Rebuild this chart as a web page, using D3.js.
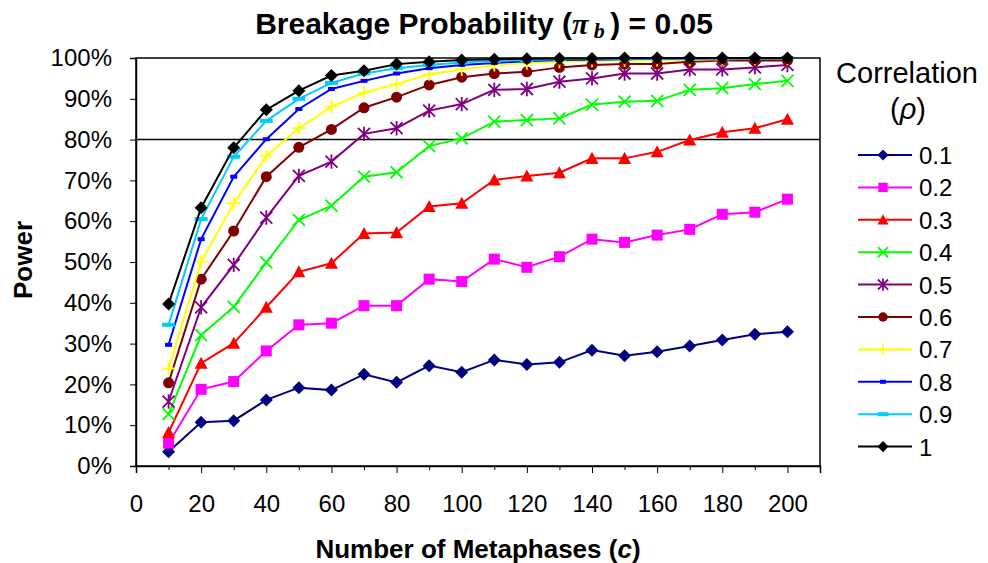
<!DOCTYPE html>
<html><head><meta charset="utf-8">
<script src="https://cdn.jsdelivr.net/npm/d3@7"></script>
<style>body{margin:0;background:#fff}svg{display:block}</style>
</head><body>
<svg id="c" width="988" height="563"></svg>
<script>
const xValues = [10,20,30,40,50,60,70,80,90,100,110,120,130,140,150,160,170,180,190,200];
const seriesNames = ["0.1","0.2","0.3","0.4","0.5","0.6","0.7","0.8","0.9","1"];
const s01 = [3.5,10.7,11.1,16.2,19.2,18.6,22.5,20.5,24.6,23.0,26.0,24.9,25.4,28.4,27.0,28.0,29.4,30.9,32.3,32.9];
const s02 = [5.6,18.8,20.7,28.2,34.6,35.0,39.3,39.3,45.8,45.2,50.7,48.7,51.3,55.6,54.8,56.6,58.0,61.7,62.2,65.4];
const s03 = [8.2,25.2,30.1,38.9,47.6,49.7,57.0,57.2,63.6,64.4,70.1,71.1,71.9,75.4,75.4,77.0,79.9,81.8,82.8,85.0];
const s04 = [12.7,32.1,39.0,49.9,60.3,63.8,70.9,72.0,78.4,80.3,84.4,84.8,85.2,88.6,89.3,89.5,92.2,92.6,93.6,94.4];
const s05 = [15.8,38.9,49.3,60.9,71.1,74.6,81.4,82.8,87.1,88.7,92.2,92.4,94.2,95.0,96.2,96.2,97.2,97.2,97.7,98.3];
const s06 = [20.4,45.8,57.6,70.9,78.1,82.5,87.8,90.4,93.4,95.3,96.2,96.6,97.7,98.3,98.5,98.5,99.1,99.4,99.4,99.4];
const s07 = [23.9,50.1,64.4,76.0,82.8,88.1,91.5,93.6,96.0,97.2,98.3,98.7,99.1,99.3,99.4,99.5,99.6,99.7,99.8,99.8];
const s08 = [29.7,55.6,70.9,80.1,87.5,92.4,94.4,96.2,97.5,98.3,98.8,99.2,99.5,99.6,99.7,99.8,99.8,99.9,99.9,99.9];
const s09 = [34.6,60.5,75.8,84.6,90.0,93.9,96.2,97.5,98.3,98.9,99.3,99.5,99.7,99.8,99.8,99.9,99.9,99.9,100,100];
const s10 = [39.7,63.3,78.0,87.3,92.0,95.7,96.9,98.5,99.1,99.5,99.7,99.8,99.9,99.9,100,100,100,100,100,100];
const seriesValues = [s01,s02,s03,s04,s05,s06,s07,s08,s09,s10];
const seriesColors = ["#000080","#FF00FF","#FF0000","#00FF00","#800080","#800000","#FFFF00","#0000FF","#00CCFF","#000000"];
const seriesMarkers = ["diamond","square","triangle","x","asterisk","circle","plus","dash","longdash","diamond"];
const xTicks = [0,20,40,60,80,100,120,140,160,180,200];
const xMinorTicks = [10,30,50,70,90,110,130,150,170,190];
const yTicks = [0,10,20,30,40,50,60,70,80,90,100];
const targetPower = 80;

const svg = d3.select("#c");
const L = 136, R = 820, T = 58, B = 466;
const x = d3.scaleLinear().domain([0,210]).range([L,R]);
const y = d3.scaleLinear().domain([0,100]).range([B,T]);
const font = "Liberation Sans, Arial, sans-serif";
const serif = "Liberation Serif, Times New Roman, serif";

// plot border
svg.append("rect").attr("x",L).attr("y",T).attr("width",R-L).attr("height",B-T)
  .attr("fill","none").attr("stroke","#000").attr("stroke-width",1.5);

// y axis
const yAxis = svg.append("g").attr("transform",`translate(${L},0)`)
  .call(d3.axisLeft(y).tickValues(yTicks).tickSize(6).tickFormat(d=>d+"%"));
yAxis.select(".domain").attr("stroke-width",1.5);
yAxis.selectAll("text").attr("font-family",font).attr("font-size",24).attr("fill","#000").attr("x",-24);
// x axis
const xAxis = svg.append("g").attr("transform",`translate(0,${B})`)
  .call(d3.axisBottom(x).tickValues(xTicks).tickSize(7).tickFormat(d3.format("d")));
xAxis.select(".domain").attr("stroke-width",1.5);
xAxis.selectAll("text").attr("font-family",font).attr("font-size",24).attr("fill","#000").attr("y",46).attr("dy",0);
svg.append("g").attr("transform",`translate(0,${B})`)
  .call(d3.axisBottom(x).tickValues(xMinorTicks).tickSize(4).tickFormat(""))
  .select(".domain").remove();

// 80% line
svg.append("line").attr("x1",L).attr("x2",R).attr("y1",y(targetPower)).attr("y2",y(targetPower))
  .attr("stroke","#000").attr("stroke-width",1.5);

function marker(g, type, color, s) {
  s = s || 1;
  if (type==="diamond") {
    const r=6.5*s;
    g.append("path").attr("d",`M0,${-r}L${r},0L0,${r}L${-r},0Z`).attr("fill",color);
  } else if (type==="square") {
    const r=5.5*s;
    g.append("rect").attr("x",-r).attr("y",-r).attr("width",2*r).attr("height",2*r).attr("fill",color);
  } else if (type==="triangle") {
    const r=6.5*s;
    g.append("path").attr("d",`M0,${-r}L${r},${r*0.85}L${-r},${r*0.85}Z`).attr("fill",color);
  } else if (type==="circle") {
    g.append("circle").attr("r",5.5*s).attr("fill",color);
  } else if (type==="x") {
    const r=6*s;
    g.append("path").attr("d",`M${-r},${-r}L${r},${r}M${-r},${r}L${r},${-r}`).attr("stroke",color).attr("stroke-width",1.8);
  } else if (type==="asterisk") {
    const r=6*s;
    g.append("path").attr("d",`M${-r},${-r}L${r},${r}M${-r},${r}L${r},${-r}M0,${-r*1.2}L0,${r*1.2}`).attr("stroke",color).attr("stroke-width",1.8);
  } else if (type==="plus") {
    const r=6.5*s;
    g.append("path").attr("d",`M${-r},0L${r},0M0,${-r}L0,${r}`).attr("stroke",color).attr("stroke-width",1.8);
  } else if (type==="dash") {
    g.append("rect").attr("x",-3.5*s).attr("y",-2).attr("width",7*s).attr("height",4).attr("fill",color);
  } else if (type==="longdash") {
    g.append("rect").attr("x",-6.5*s).attr("y",-2).attr("width",13*s).attr("height",4).attr("fill",color);
  }
}

const line = d3.line().x((d,i)=>x(xValues[i])).y(d=>y(d));
seriesValues.forEach((vals,k)=>{
  const g = svg.append("g");
  g.append("path").attr("d",line(vals)).attr("fill","none")
    .attr("stroke",seriesColors[k]).attr("stroke-width",2);
  vals.forEach((v,i)=>{
    const m = g.append("g").attr("transform",`translate(${x(xValues[i])},${y(v)})`);
    marker(m, seriesMarkers[k], seriesColors[k]);
  });
});

// title
const title = svg.append("text").attr("x",484).attr("y",34).attr("text-anchor","middle")
  .attr("font-family",font).attr("font-size",30).attr("font-weight","bold");
title.append("tspan").text("Breakage Probability (");
title.append("tspan").attr("font-family",serif).attr("font-style","italic").text("π");
title.append("tspan").attr("font-family",serif).attr("font-style","italic").attr("font-size",22).attr("dy",4).text(" b ");
title.append("tspan").attr("dy",-4).text(") = 0.05");

// axis titles
svg.append("text").attr("transform","translate(32,260) rotate(-90)").attr("text-anchor","middle")
  .attr("font-family",font).attr("font-size",26).attr("font-weight","bold").text("Power");
const xt = svg.append("text").attr("x",478).attr("y",558).attr("text-anchor","middle")
  .attr("font-family",font).attr("font-size",26).attr("font-weight","bold");
xt.append("tspan").text("Number of Metaphases (");
xt.append("tspan").attr("font-style","italic").text("c");
xt.append("tspan").text(")");

// legend
svg.append("text").attr("x",907).attr("y",83).attr("text-anchor","middle")
  .attr("font-family",font).attr("font-size",29).text("Correlation");
const lr = svg.append("text").attr("x",908).attr("y",119).attr("text-anchor","middle")
  .attr("font-family",font).attr("font-size",29);
lr.append("tspan").text("(");
lr.append("tspan").attr("font-style","italic").text("ρ");
lr.append("tspan").text(")");
seriesNames.forEach((n,k)=>{
  const yy = 155 + k*32.4;
  const g = svg.append("g");
  g.append("line").attr("x1",858).attr("x2",912).attr("y1",yy).attr("y2",yy)
    .attr("stroke",seriesColors[k]).attr("stroke-width",2);
  const m = g.append("g").attr("transform",`translate(883,${yy})`);
  marker(m, seriesMarkers[k], seriesColors[k], 0.85);
  g.append("text").attr("x",919).attr("y",yy+9).attr("font-family",font).attr("font-size",24).text(n);
});
</script>
</body></html>
